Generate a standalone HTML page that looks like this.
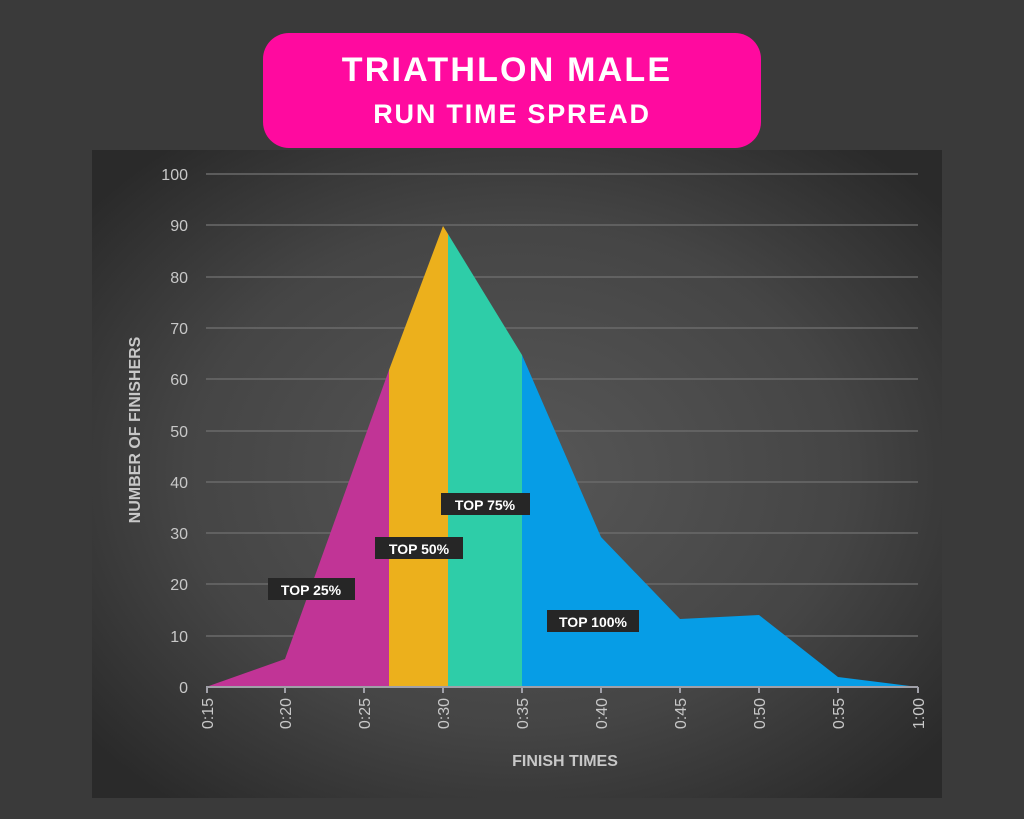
<!DOCTYPE html>
<html><head><style>
html,body{margin:0;padding:0;background:#3a3a3a;}
body{width:1024px;height:819px;position:relative;overflow:hidden;font-family:"Liberation Sans",sans-serif;}
</style></head><body>
<svg width="1024" height="819" viewBox="0 0 1024 819" xmlns="http://www.w3.org/2000/svg" style="position:absolute;left:0;top:0">
<defs>
<radialGradient id="bg" cx="0.5" cy="0.5" r="0.65">
<stop offset="0" stop-color="#575757"/>
<stop offset="0.6" stop-color="#454545"/>
<stop offset="1" stop-color="#2a2a2a"/>
</radialGradient>
</defs>
<rect x="0" y="0" width="1024" height="819" fill="#3a3a3a"/>
<rect x="92" y="150" width="850" height="648" fill="url(#bg)"/>
<rect x="263" y="33" width="498" height="115" rx="26" fill="#ff0a9f"/>
<text x="507" y="81" text-anchor="middle" font-size="34" font-weight="bold" fill="#fff" letter-spacing="2.2">TRIATHLON MALE</text>
<text x="512" y="123" text-anchor="middle" font-size="27" font-weight="bold" fill="#fff" letter-spacing="1.8">RUN TIME SPREAD</text>
<g stroke="#6a6a6a" stroke-width="1.5">
<line x1="206" y1="174" x2="918" y2="174"/><line x1="206" y1="225" x2="918" y2="225"/>
<line x1="206" y1="277" x2="918" y2="277"/><line x1="206" y1="328" x2="918" y2="328"/>
<line x1="206" y1="379" x2="918" y2="379"/><line x1="206" y1="431" x2="918" y2="431"/>
<line x1="206" y1="482" x2="918" y2="482"/><line x1="206" y1="533" x2="918" y2="533"/>
<line x1="206" y1="584" x2="918" y2="584"/><line x1="206" y1="636" x2="918" y2="636"/>
</g>
<g font-size="16" fill="#c8c8c8" text-anchor="end">
<text x="188" y="180">100</text><text x="188" y="231">90</text><text x="188" y="283">80</text>
<text x="188" y="334">70</text><text x="188" y="385">60</text><text x="188" y="437">50</text>
<text x="188" y="488">40</text><text x="188" y="539">30</text><text x="188" y="590">20</text>
<text x="188" y="642">10</text><text x="188" y="693">0</text>
</g>
<polygon points="206,687 285,659 389,370 389,687" fill="#c13496"/>
<polygon points="389,687 389,370 443,226 448,234 448,687" fill="#ecb01c"/>
<polygon points="448,687 448,234 522,355 522,687" fill="#2ecda8"/>
<polygon points="522,687 522,355 601,537 680,619 759,615 838,677 918,687" fill="#069de6"/>
<line x1="206" y1="687" x2="918" y2="687" stroke="#a0a0a8" stroke-width="2"/>
<g stroke="#a0a0a8" stroke-width="2">
<line x1="207" y1="687" x2="207" y2="693"/><line x1="285" y1="687" x2="285" y2="693"/>
<line x1="364" y1="687" x2="364" y2="693"/><line x1="443" y1="687" x2="443" y2="693"/>
<line x1="522" y1="687" x2="522" y2="693"/><line x1="601" y1="687" x2="601" y2="693"/>
<line x1="680" y1="687" x2="680" y2="693"/><line x1="759" y1="687" x2="759" y2="693"/>
<line x1="838" y1="687" x2="838" y2="693"/><line x1="918" y1="687" x2="918" y2="693"/>
</g>
<g font-size="16" fill="#c8c8c8" text-anchor="end">
<text transform="translate(213,698) rotate(-90)">0:15</text>
<text transform="translate(291,698) rotate(-90)">0:20</text>
<text transform="translate(370,698) rotate(-90)">0:25</text>
<text transform="translate(449,698) rotate(-90)">0:30</text>
<text transform="translate(528,698) rotate(-90)">0:35</text>
<text transform="translate(607,698) rotate(-90)">0:40</text>
<text transform="translate(686,698) rotate(-90)">0:45</text>
<text transform="translate(765,698) rotate(-90)">0:50</text>
<text transform="translate(844,698) rotate(-90)">0:55</text>
<text transform="translate(924,698) rotate(-90)">1:00</text>
</g>
<text x="565" y="766" text-anchor="middle" font-size="16" font-weight="bold" fill="#c8c8c8">FINISH TIMES</text>
<text transform="translate(140,430) rotate(-90)" text-anchor="middle" font-size="16" font-weight="bold" fill="#c8c8c8">NUMBER OF FINISHERS</text>
<g font-size="14" font-weight="bold" fill="#fff">
<rect x="268" y="578" width="87" height="22" fill="#262626"/><text x="311" y="595" text-anchor="middle">TOP 25%</text>
<rect x="375" y="537" width="88" height="22" fill="#262626"/><text x="419" y="554" text-anchor="middle">TOP 50%</text>
<rect x="441" y="493" width="89" height="22" fill="#262626"/><text x="485" y="510" text-anchor="middle">TOP 75%</text>
<rect x="547" y="610" width="92" height="22" fill="#262626"/><text x="593" y="627" text-anchor="middle">TOP 100%</text>
</g>
</svg>
</body></html>
